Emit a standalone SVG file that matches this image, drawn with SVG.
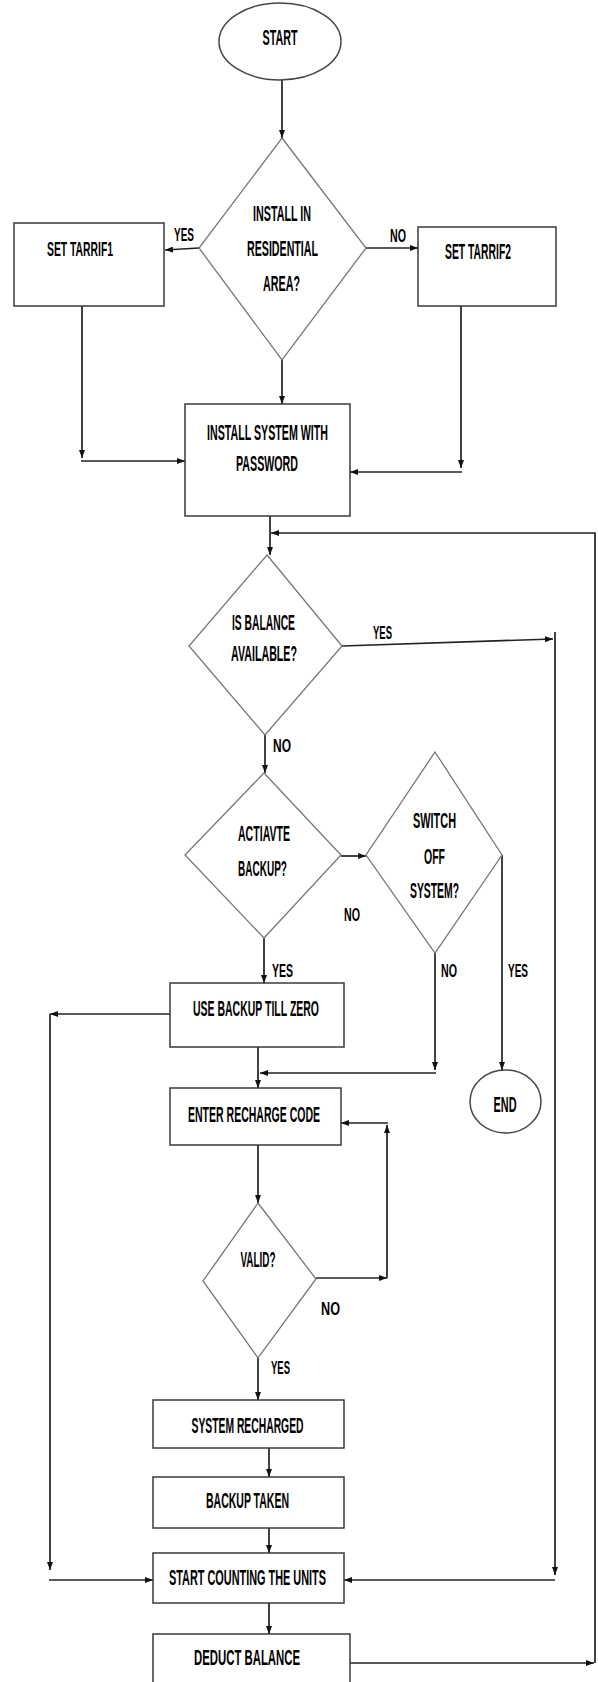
<svg xmlns="http://www.w3.org/2000/svg" width="598" height="1682" viewBox="0 0 598 1682">
<style>
text{font-family:"Liberation Sans Narrow","Liberation Sans",Arial,sans-serif;font-weight:bold;fill:#000;text-anchor:middle}
.t{font-size:22px}
.l{font-size:19px}
.box{fill:#fff;stroke:#3a3a3a;stroke-width:1.5}
.dia{fill:#fff;stroke:#777;stroke-width:1.3}
.ell{fill:#fff;stroke:#444;stroke-width:1.5}
.c path{fill:none;stroke:#222;stroke-width:1.7}
</style>
<defs>
<marker id="ah" viewBox="0 0 8 6" refX="8" refY="3" markerWidth="8" markerHeight="6" markerUnits="userSpaceOnUse" orient="auto">
<path d="M0,0 L8,3 L0,6 z" fill="#111"/>
</marker>
</defs>
<rect width="598" height="1682" fill="#fff"/>

<g class="c" id="connectors">
<path d="M282 80 V138" marker-end="url(#ah)"/>
<path d="M199 248 L165 250" marker-end="url(#ah)"/>
<path d="M366 248 H418" marker-end="url(#ah)"/>
<path d="M282 360 V404" marker-end="url(#ah)"/>
<path d="M82 306 V458" marker-end="url(#ah)"/>
<path d="M81 461 H185" marker-end="url(#ah)"/>
<path d="M461 306 V468" marker-end="url(#ah)"/>
<path d="M462 472 H350" marker-end="url(#ah)"/>
<path d="M270 516 V555" marker-end="url(#ah)"/>
<path d="M350 1663 H594" marker-end="url(#ah)"/>
<path d="M595 1663 V533 H271" marker-end="url(#ah)"/>
<path d="M342 646 L553 639" marker-end="url(#ah)"/>
<path d="M555 632 V1575" marker-end="url(#ah)"/>
<path d="M555 1580 H344" marker-end="url(#ah)"/>
<path d="M265 735 V773" marker-end="url(#ah)"/>
<path d="M341 856 H366" marker-end="url(#ah)"/>
<path d="M264 938 V983" marker-end="url(#ah)"/>
<path d="M502 855 V1070" marker-end="url(#ah)"/>
<path d="M435 953 V1070" marker-end="url(#ah)"/>
<path d="M436 1073 H260" marker-end="url(#ah)"/>
<path d="M170 1014 H50" marker-end="url(#ah)"/>
<path d="M50 1014 V1570" marker-end="url(#ah)"/>
<path d="M49 1580 H153" marker-end="url(#ah)"/>
<path d="M258 1047 V1088" marker-end="url(#ah)"/>
<path d="M258 1145 V1203" marker-end="url(#ah)"/>
<path d="M316 1278 H387" marker-end="url(#ah)"/>
<path d="M387 1278 V1125" marker-end="url(#ah)"/>
<path d="M388 1123 H341" marker-end="url(#ah)"/>
<path d="M258 1358 V1400" marker-end="url(#ah)"/>
<path d="M269 1448 V1477" marker-end="url(#ah)"/>
<path d="M269 1528 V1553" marker-end="url(#ah)"/>
<path d="M269 1603 V1634" marker-end="url(#ah)"/>
</g>

<g id="labels">
<text class="l" x="184" y="241" textLength="20" lengthAdjust="spacingAndGlyphs">YES</text>
<text class="l" x="398" y="242" textLength="16" lengthAdjust="spacingAndGlyphs">NO</text>
<text class="l" x="382.5" y="639" textLength="19" lengthAdjust="spacingAndGlyphs">YES</text>
<text class="l" x="282" y="752" textLength="18" lengthAdjust="spacingAndGlyphs">NO</text>
<text class="l" x="352" y="921" textLength="16" lengthAdjust="spacingAndGlyphs">NO</text>
<text class="l" x="282.5" y="977" textLength="21" lengthAdjust="spacingAndGlyphs">YES</text>
<text class="l" x="449" y="977" textLength="16" lengthAdjust="spacingAndGlyphs">NO</text>
<text class="l" x="518" y="977" textLength="20" lengthAdjust="spacingAndGlyphs">YES</text>
<text class="l" x="330.5" y="1315" textLength="19" lengthAdjust="spacingAndGlyphs">NO</text>
<text class="l" x="280.5" y="1374" textLength="19" lengthAdjust="spacingAndGlyphs">YES</text>
</g>

<g id="start">
<ellipse class="ell" cx="280" cy="41.5" rx="61" ry="38.5"/>
<text class="t" x="280" y="45" textLength="35" lengthAdjust="spacingAndGlyphs">START</text>
</g>

<g id="residential">
<polygon class="dia" points="282,138 366,248 282,360 199,248"/>
<text class="t" x="282" y="221" textLength="58" lengthAdjust="spacingAndGlyphs">INSTALL IN</text>
<text class="t" x="282.5" y="256" textLength="71" lengthAdjust="spacingAndGlyphs">RESIDENTIAL</text>
<text class="t" x="281.5" y="291" textLength="37" lengthAdjust="spacingAndGlyphs">AREA?</text>
</g>

<g id="tariff1">
<rect class="box" x="14" y="223" width="150" height="83"/>
<text class="t" style="font-size:21px" x="80" y="256" textLength="66" lengthAdjust="spacingAndGlyphs">SET TARRIF1</text>
</g>

<g id="tariff2">
<rect class="box" x="418" y="227" width="138" height="79"/>
<text class="t" x="478" y="259" textLength="66" lengthAdjust="spacingAndGlyphs">SET TARRIF2</text>
</g>

<g id="install">
<rect class="box" x="185" y="404" width="165" height="112"/>
<text class="t" x="267.5" y="440" textLength="121" lengthAdjust="spacingAndGlyphs">INSTALL SYSTEM WITH</text>
<text class="t" x="267" y="471" textLength="62" lengthAdjust="spacingAndGlyphs">PASSWORD</text>
</g>

<g id="balance">
<polygon class="dia" points="267,555 342,646 265,735 189,646"/>
<text class="t" x="263.5" y="630" textLength="63" lengthAdjust="spacingAndGlyphs">IS BALANCE</text>
<text class="t" x="264" y="661" textLength="66" lengthAdjust="spacingAndGlyphs">AVAILABLE?</text>
</g>

<g id="backup">
<polygon class="dia" points="264,773 341,855 264,938 185,855"/>
<text class="t" x="264" y="841" textLength="52" lengthAdjust="spacingAndGlyphs">ACTIAVTE</text>
<text class="t" x="262.5" y="876" textLength="49" lengthAdjust="spacingAndGlyphs">BACKUP?</text>
</g>

<g id="switchoff">
<polygon class="dia" points="435,752 502,855 435,953 366,855"/>
<text class="t" x="434.5" y="828" textLength="43" lengthAdjust="spacingAndGlyphs">SWITCH</text>
<text class="t" x="434.5" y="864" textLength="21" lengthAdjust="spacingAndGlyphs">OFF</text>
<text class="t" x="434.5" y="898" textLength="49" lengthAdjust="spacingAndGlyphs">SYSTEM?</text>
</g>

<g id="usebackup">
<rect class="box" x="170" y="983" width="174" height="64"/>
<text class="t" x="256" y="1016" textLength="126" lengthAdjust="spacingAndGlyphs">USE BACKUP TILL ZERO</text>
</g>

<g id="end">
<ellipse class="ell" cx="505.5" cy="1101.5" rx="35.5" ry="31.5"/>
<text class="t" x="505" y="1112" textLength="23" lengthAdjust="spacingAndGlyphs">END</text>
</g>

<g id="enter">
<rect class="box" x="170" y="1088" width="171" height="57"/>
<text class="t" x="254" y="1122" textLength="132" lengthAdjust="spacingAndGlyphs">ENTER RECHARGE CODE</text>
</g>

<g id="valid">
<polygon class="dia" points="258,1203 316,1279 258,1358 203,1281"/>
<text class="t" x="258" y="1267" textLength="35" lengthAdjust="spacingAndGlyphs">VALID?</text>
</g>

<g id="recharged">
<rect class="box" x="153" y="1400" width="191" height="48"/>
<text class="t" x="247.5" y="1433" textLength="112" lengthAdjust="spacingAndGlyphs">SYSTEM RECHARGED</text>
</g>

<g id="backuptaken">
<rect class="box" x="153" y="1477" width="191" height="51"/>
<text class="t" x="247.5" y="1508" textLength="83" lengthAdjust="spacingAndGlyphs">BACKUP TAKEN</text>
</g>

<g id="counting">
<rect class="box" x="153" y="1553" width="191" height="50"/>
<text class="t" x="247.5" y="1585" textLength="157" lengthAdjust="spacingAndGlyphs">START COUNTING THE UNITS</text>
</g>

<g id="deduct">
<rect class="box" x="153" y="1634" width="197" height="60"/>
<text class="t" x="247" y="1665" textLength="106" lengthAdjust="spacingAndGlyphs">DEDUCT BALANCE</text>
</g>
</svg>
